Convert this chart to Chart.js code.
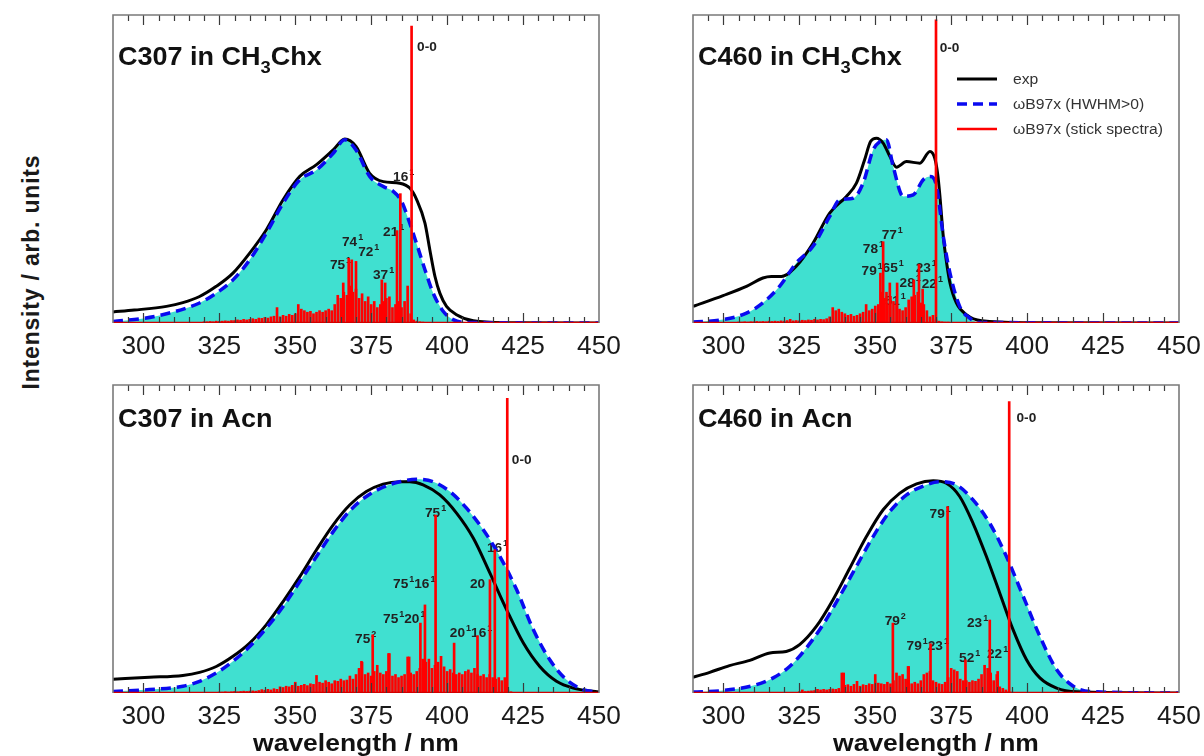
<!DOCTYPE html>
<html>
<head>
<meta charset="utf-8">
<script src="https://cdn.jsdelivr.net/npm/chart.js@4.4.0/dist/chart.umd.min.js"></script>
<style>
html,body{margin:0;padding:0;background:#fff;}
body{width:1204px;height:756px;position:relative;overflow:hidden;font-family:"Liberation Sans",Arial,sans-serif;}
.panel{position:absolute;}
#ytitle{position:absolute;left:31px;top:272px;transform:translate(-50%,-50%) rotate(-90deg);
  font-weight:bold;font-size:23px;white-space:nowrap;color:#1a1a1a;letter-spacing:0.8px;}
</style>
</head>
<body>
<div id="ytitle">Intensity / arb. units</div>
<canvas class="panel" id="c1"></canvas>
<canvas class="panel" id="c2"></canvas>
<canvas class="panel" id="c3"></canvas>
<canvas class="panel" id="c4"></canvas>
<script>
// ── AXES ──
const WL_MIN = 290, WL_MAX = 450;
const tickLabels = [300, 325, 350, 375, 400, 425, 450];

// ── C307 in CH3Chx ──
const c307ChxExp = [[290,.036],[297,.042],[307.6,.054],[313,.066],[318.5,.086],[324,.119],[329.5,.162],[335,.227],
  [340.5,.303],[346,.40],[351.5,.476],[357,.514],[362.5,.562],[366.3,.597],[370,.573],[374.5,.486],[379,.459],
  [384.4,.454],[387.7,.438],[390,.40],[392.7,.324],[394.3,.238],[396,.151],[397.6,.097],[399.8,.054],[403.1,.027],
  [408.6,.007],[420,.001],[450,0]];
const c307ChxCalc = [[290,.005],[300,.015],[307.6,.03],[318.5,.065],[324,.097],[329.5,.14],[335,.205],[340.5,.292],
  [346,.389],[351.5,.465],[357,.497],[362.5,.551],[366.3,.595],[370,.562],[374.5,.476],[379,.443],[382.3,.427],
  [385,.395],[387.7,.324],[389.9,.259],[392.7,.173],[395.4,.097],[398.7,.038],[402,.011],[406,.002],[450,0]];
const c307ChxSticks = [[365.8,.13],[367.6,.21],[368.6,.205],[370,.20],[378.5,.14],[379.6,.13],[383.5,.30],[384.6,.42],[388.3,.964]];
const c307ChxGrassFrom = 320;
const c307ChxGrass = [.004,.004,.005,.004,.006,.005,.006,.007,.006,.008,.008,.01,.009,.012,.01,.012,.014,.012,.016,.015,
  .018,.016,.02,.022,.05,.02,.025,.022,.028,.025,.03,.06,.045,.04,.035,.038,.03,.035,.04,.035,
  .04,.045,.04,.06,.09,.08,.10,.09,.12,.10,.11,.08,.095,.07,.085,.06,.07,.05,.06,.07,
  .08,.085,.05,.06,.07,.05,.07,.12,.03,.01,.006,.004,.003];
const c307ChxTags = [['0-0',390.1,.883],['16^1',382.2,.461],['21^1',378.9,.282],['74^1',365.4,.25],
  ['72^1',370.7,.218],['75^1',361.4,.175],['37^1',375.6,.143]];

// ── C460 in CH3Chx ──
const c460ChxExp = [[290,.054],[299.9,.089],[307.6,.119],[313,.146],[315.8,.151],[319.1,.151],[324,.184],[329.5,.259],
  [335,.357],[340.5,.411],[343.8,.454],[346.5,.53],[348.5,.59],[350.4,.60],[352.6,.584],[354.8,.541],[357,.506],
  [360.3,.524],[364.7,.519],[368,.557],[369.6,.535],[370.6,.48],[371.3,.411],[372.4,.281],[373.5,.195],[374.6,.13],
  [376.7,.065],[380,.027],[385,.007],[400,.001],[450,0]];
const c460ChxCalc = [[290,.003],[299.9,.011],[307.6,.032],[313,.065],[318.5,.119],[324,.195],[329.5,.249],[335,.346],
  [338.3,.40],[342.7,.405],[346,.454],[349.3,.562],[351.5,.589],[353.7,.595],[355.9,.508],[359.2,.411],[362.5,.416],
  [365.8,.465],[368,.476],[370.2,.443],[372.4,.281],[374.6,.162],[377.8,.054],[381.1,.016],[384.4,.002],[450,0]];
const c460ChxSticks = [[351.7,.162],[352.6,.264],[353.7,.10],[354.8,.13],[357.2,.13],[362.7,.14],[364.4,.19],[365.6,.11],[370,.984]];
const c460ChxGrassFrom = 305;
const c460ChxGrass = [.003,.003,.004,.003,.004,.004,.005,.004,.005,.004,.006,.005,.006,.005,.007,.006,.008,.012,.007,.008,
  .007,.009,.008,.01,.009,.012,.01,.012,.011,.014,.02,.05,.04,.045,.035,.03,.025,.028,.022,.025,
  .03,.035,.06,.04,.045,.055,.06,.10,.08,.06,.085,.07,.06,.045,.04,.05,.075,.085,.09,.10,
  .065,.06,.04,.02,.025,.01,.006,.004,.003,.003,.002];
const c460ChxTags = [['0-0',371.2,.88],['77^1',352.1,.273],['78^1',345.9,.227],['79^1',345.5,.156],['65^1',352.4,.166],
  ['51^1',353.1,.058],['28^1',358,.117],['23^1',363.3,.166],['22^1',365.3,.114]];

// ── C307 in Acn ──
const c307AcnExp = [[290,.045],[302,.051],[313,.057],[318.5,.067],[324,.086],[329.5,.119],[335,.162],[340.5,.222],
  [346,.297],[351.5,.378],[357,.465],[362.5,.546],[368,.611],[373.4,.654],[378.9,.678],[384.4,.686],[387.7,.686],
  [392.1,.676],[397.6,.643],[403.1,.584],[408.6,.503],[414.1,.389],[419.6,.27],[425.1,.162],[430.5,.086],[436,.038],
  [441.5,.016],[450,.003]];
const c307AcnCalc = [[290,.005],[302,.011],[313,.022],[318.5,.038],[324,.065],[329.5,.103],[335,.151],[340.5,.211],
  [346,.281],[351.5,.362],[357,.443],[362.5,.524],[368,.592],[373.4,.638],[378.9,.668],[384.4,.686],[389.9,.694],
  [395.4,.686],[400.9,.654],[406.4,.60],[411.9,.53],[417.4,.443],[422.9,.335],[428.4,.205],[433.8,.108],[439.3,.043],
  [444.8,.011],[450,.002]];
const c307AcnSticks = [[371.8,.103],[375.5,.189],[380.7,.128],[387.5,.117],[391.2,.227],[392.7,.286],[396.2,.578],
  [402.3,.162],[410,.186],[414.1,.368],[415.7,.465],[419.8,.957]];
const c307AcnGrassFrom = 325;
const c307AcnGrass = [.003,.003,.004,.003,.004,.005,.004,.005,.006,.005,.006,.007,.006,.008,.011,.009,.012,.01,.014,.012,
  .02,.018,.022,.02,.025,.035,.022,.025,.028,.024,.03,.028,.057,.035,.032,.04,.035,.03,.04,.038,
  .045,.04,.042,.055,.045,.06,.08,.10,.06,.065,.055,.07,.09,.065,.06,.07,.128,.055,.06,.05,
  .055,.06,.117,.065,.06,.07,.08,.11,.10,.11,.08,.09,.10,.119,.085,.07,.076,.065,.06,.065,
  .06,.07,.075,.065,.08,.06,.055,.06,.05,.06,.05,.045,.05,.04,.05,.01,.004];
const c307AcnTags = [['0-0',421.3,.742],['75^1',392.7,.57],['16^1',413.1,.458],['20',407.5,.342],['75^116^1',382.2,.342],
  ['75^120^1',378.9,.228],['20^116^1',400.9,.183],['75^2',369.7,.163]];

// ── C460 in Acn ──
const c460AcnExp = [[290,.051],[295.5,.067],[302,.089],[308.7,.106],[315.3,.13],[320.7,.135],[325.1,.157],[330.6,.216],
  [336.1,.303],[341.6,.405],[347.1,.508],[352.6,.595],[358.1,.649],[363.6,.679],[369.1,.689],[373.4,.681],[377.8,.638],
  [382.2,.551],[386.6,.443],[391,.324],[395.4,.205],[399.8,.108],[404.2,.049],[409.7,.016],[416.3,.004],[450,0]];
const c460AcnCalc = [[290,.003],[299.9,.008],[310.9,.027],[316.4,.049],[321.8,.086],[327.3,.146],[332.8,.222],[338.3,.314],
  [343.8,.411],[349.3,.508],[354.8,.589],[360.3,.643],[365.8,.672],[371.3,.686],[376.7,.676],[382.2,.627],[387.7,.551],
  [393.2,.443],[398.7,.314],[404.2,.184],[409.7,.076],[415.2,.022],[420.7,.005],[450,0]];
const c460AcnSticks = [[339.6,.065],[355.8,.227],[360.8,.086],[368.2,.16],[373.8,.605],[379.7,.108],[387.7,.237],[390.3,.07],[394.1,.946]];
const c460AcnGrassFrom = 325;
const c460AcnGrass = [.004,.01,.005,.006,.007,.008,.012,.01,.012,.01,.012,.013,.012,.015,.065,.025,.027,.022,.028,.038,
  .022,.027,.025,.03,.028,.06,.032,.03,.028,.035,.03,.04,.065,.055,.06,.045,.086,.03,.035,.03,
  .04,.06,.065,.07,.04,.035,.03,.028,.035,.05,.08,.075,.07,.045,.04,.04,.035,.04,.038,.045,
  .06,.09,.08,.065,.04,.06,.02,.015,.01,.005,.003];
const c460AcnTags = [['0-0',396.5,.88],['79^1',367.9,.569],['79^2',353.1,.222],['79^123^1',360.3,.141],['52^1',377.6,.102],
  ['23^1',380.2,.215],['22^1',386.8,.115]];

// stick spectra zero line
const stickBase = [[WL_MIN,0],[WL_MAX,0]];

const legendItems = ['exp', 'ωB97x (HWHM>0)', 'ωB97x (stick spectra)'];

const C_FILL = '#40e0d0', C_CALC = '#0a0af0', C_STICK = '#ff0000';
const FONT = '"Liberation Sans", Arial, sans-serif';

const toPts = arr => arr.map(p => ({x: p[0], y: p[1]}));
const grassPts = (from, arr) => arr.map((h, i) => ({x: from + i, y: h}));

// text drawn a little wider than the stock face
function wideText(ctx, txt, x, y, sx){
  ctx.save(); ctx.translate(x, y); ctx.scale(sx, 1); ctx.fillText(txt, 0, 0); ctx.restore();
  return ctx.measureText(txt).width * sx;
}

// "75^116^1" -> 75 with raised 1, then 16 with raised 1
function drawTag(ctx, x, y, tag){
  const parts = tag.match(/\d+\^\d|[^\^]+$/g) || [tag];
  let cx = x;
  ctx.textAlign = 'left'; ctx.textBaseline = 'alphabetic'; ctx.fillStyle = '#222';
  parts.forEach(p => {
    const [base, sup] = p.split('^');
    ctx.font = 'bold 13px ' + FONT;
    cx += wideText(ctx, base, cx, y, 1.05);
    if (sup){
      ctx.font = 'bold 9px ' + FONT;
      cx += wideText(ctx, sup, cx + 1, y - 6, 1) + 1;
    }
  });
}

// "C307 in CH_3Chx" -> subscript 3
function drawTitle(ctx, x, y, title){
  const bits = title.split(/_(\d)/);
  let cx = x;
  ctx.fillStyle = '#111'; ctx.textAlign = 'left'; ctx.textBaseline = 'alphabetic';
  bits.forEach((b, i) => {
    if (i % 2){ ctx.font = 'bold 17px ' + FONT; cx += wideText(ctx, b, cx, y + 8, 1.08); }
    else { ctx.font = 'bold 25px ' + FONT; cx += wideText(ctx, b, cx, y, 1.08); }
  });
}

function decor(opts){
  return {
    id: 'decor',
    beforeDatasetsDraw(chart){
      const {ctx, scales:{x, y}} = chart;
      ctx.save();
      opts.tags.forEach(t => drawTag(ctx, x.getPixelForValue(t[1]), y.getPixelForValue(t[2]), t[0]));
      ctx.restore();
    },
    afterDatasetsDraw(chart){
      const {ctx, chartArea:a, scales:{x}} = chart;
      ctx.save();
      // inward ticks, top and bottom
      ctx.strokeStyle = '#3a3a3a'; ctx.lineWidth = 1.2;
      for (let v = WL_MIN + 5; v < WL_MAX; v += 5){
        const px = Math.round(x.getPixelForValue(v)) + 0.5;
        const len = (v % 25 === 0) ? 10 : 6;
        ctx.beginPath();
        ctx.moveTo(px, a.top); ctx.lineTo(px, a.top + len);
        ctx.moveTo(px, a.bottom); ctx.lineTo(px, a.bottom - len);
        ctx.stroke();
      }
      // frame
      ctx.strokeStyle = '#7a7a7a'; ctx.lineWidth = 1.6;
      ctx.beginPath();
      ctx.moveTo(a.left, a.bottom); ctx.lineTo(a.left, a.top); ctx.lineTo(a.right, a.top); ctx.lineTo(a.right, a.bottom);
      ctx.stroke();
      // tick labels
      ctx.fillStyle = '#1a1a1a'; ctx.font = '25px ' + FONT; ctx.textBaseline = 'alphabetic';
      tickLabels.forEach(v => {
        const s = String(v);
        const w = ctx.measureText(s).width * 1.05;
        wideText(ctx, s, x.getPixelForValue(v) - w / 2, a.bottom + 31, 1.05);
      });
      drawTitle(ctx, a.left + 5, a.top + opts.titleY, opts.title);
      if (opts.xTitle){
        ctx.font = 'bold 23px ' + FONT; ctx.fillStyle = '#111';
        const s = 'wavelength / nm';
        const w = ctx.measureText(s).width * 1.15;
        wideText(ctx, s, (a.left + a.right) / 2 - w / 2, a.bottom + 58, 1.15);
      }
      if (opts.legend){
        const lx = a.left + 264, ly = a.top + 64, gap = 25;
        const styles = [['#000', [], 3], [C_CALC, [10, 6], 3.5], [C_STICK, [], 2.5]];
        legendItems.forEach((txt, i) => {
          const yy = ly + i * gap;
          ctx.strokeStyle = styles[i][0]; ctx.setLineDash(styles[i][1]); ctx.lineWidth = styles[i][2];
          ctx.beginPath(); ctx.moveTo(lx, yy); ctx.lineTo(lx + 40, yy); ctx.stroke();
          ctx.setLineDash([]);
          ctx.font = '14px ' + FONT; ctx.fillStyle = '#333';
          wideText(ctx, txt, lx + 56, yy + 5, 1.12);
        });
      }
      ctx.restore();
    }
  };
}

function makePanel(id, box, d){
  const padL = 25, padR = 30, padT = 12, padB = d.xTitle ? 63 : 40;
  const cv = document.getElementById(id);
  cv.width = 486 + padL + padR; cv.height = 308 + padT + padB;
  cv.style.left = (box[0] - padL) + 'px'; cv.style.top = (box[1] - padT) + 'px';
  return new Chart(cv, {
    type: 'line',
    data: { datasets: [
      {type: 'bar', data: toPts(d.sticks), backgroundColor: C_STICK, barThickness: 2, grouped: false, order: 1},
      {type: 'bar', data: grassPts(d.grassFrom, d.grass), backgroundColor: C_STICK, barThickness: 2, grouped: false, order: 1},
      {data: toPts(stickBase), borderColor: '#d00000', borderWidth: 2.5, order: 0},
      {data: toPts(d.calc), borderColor: C_CALC, borderDash: [10, 6], borderWidth: 3.5, fill: 'origin', backgroundColor: C_FILL, order: 2},
      {data: toPts(d.exp), borderColor: '#000', borderWidth: 3, order: 3}
    ]},
    options: {
      responsive: false, animation: false, events: [],
      layout: {padding: {left: padL, right: padR, top: padT, bottom: padB}},
      elements: {point: {radius: 0}, line: {cubicInterpolationMode: 'monotone'}},
      scales: {
        x: {type: 'linear', min: WL_MIN, max: WL_MAX, display: false, offset: false},
        y: {min: 0, max: 1, display: false}
      },
      plugins: {legend: {display: false}, tooltip: {enabled: false}, filler: {drawTime: 'beforeDatasetsDraw'}}
    },
    plugins: [decor(d)]
  });
}

makePanel('c1', [113, 15], {exp: c307ChxExp, calc: c307ChxCalc, sticks: c307ChxSticks, grassFrom: c307ChxGrassFrom,
  grass: c307ChxGrass, tags: c307ChxTags, title: 'C307 in CH_3Chx', titleY: 50});
makePanel('c2', [693, 15], {exp: c460ChxExp, calc: c460ChxCalc, sticks: c460ChxSticks, grassFrom: c460ChxGrassFrom,
  grass: c460ChxGrass, tags: c460ChxTags, title: 'C460 in CH_3Chx', titleY: 50, legend: true});
makePanel('c3', [113, 385], {exp: c307AcnExp, calc: c307AcnCalc, sticks: c307AcnSticks, grassFrom: c307AcnGrassFrom,
  grass: c307AcnGrass, tags: c307AcnTags, title: 'C307 in Acn', titleY: 42, xTitle: true});
makePanel('c4', [693, 385], {exp: c460AcnExp, calc: c460AcnCalc, sticks: c460AcnSticks, grassFrom: c460AcnGrassFrom,
  grass: c460AcnGrass, tags: c460AcnTags, title: 'C460 in Acn', titleY: 42, xTitle: true});
</script>
</body>
</html>
